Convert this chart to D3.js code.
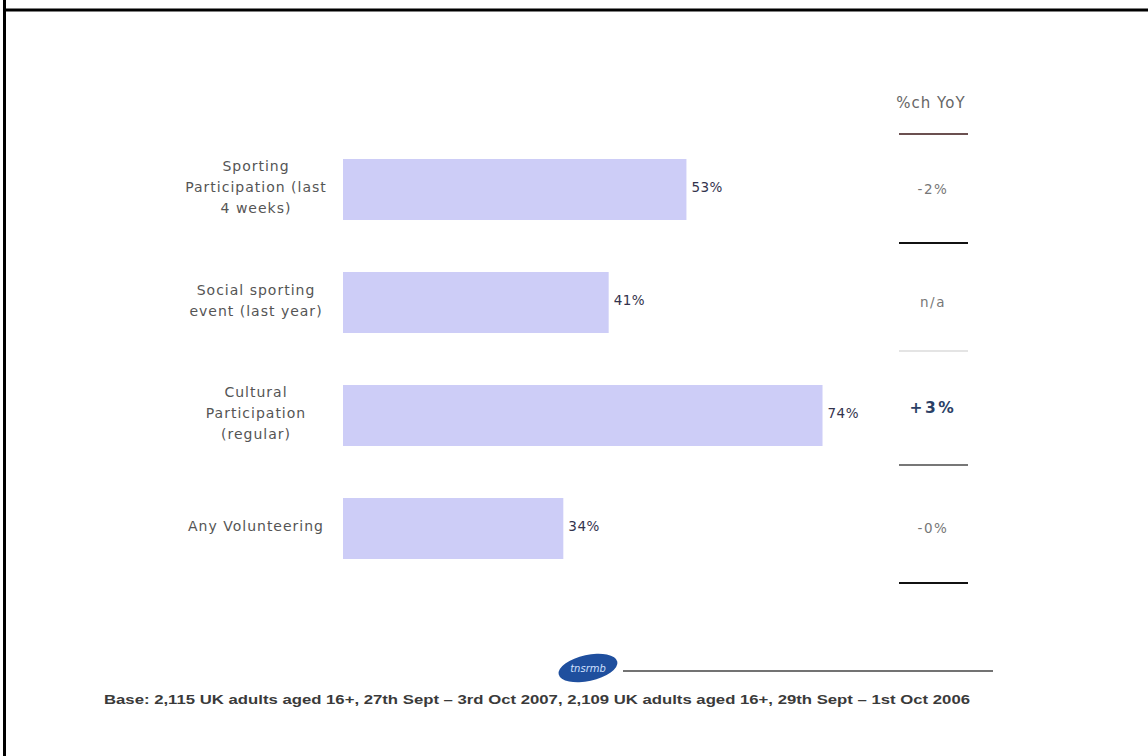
<!DOCTYPE html>
<html>
<head>
<meta charset="utf-8">
<script src="https://cdn.jsdelivr.net/npm/d3@7"></script>
<style>
  body { margin: 0; background: #fff; }
  svg { display: block; font-family: "DejaVu Sans", Verdana, sans-serif; }
</style>
</head>
<body>
<svg id="chart" width="1148" height="756"></svg>
<script>
'use strict';

// chart values
var categories = [
    ['Sporting', 'Participation (last', '4 weeks)'],
    ['Social sporting', 'event (last year)'],
    ['Cultural', 'Participation', '(regular)'],
    ['Any Volunteering']
];
var values = [53, 41, 74, 34];
var yoyLabels = ['-2%', 'n/a', '+3%', '-0%'];
var yoyHeader = '%ch YoY';
var footnote = 'Base: 2,115 UK adults aged 16+, 27th Sept \u2013 3rd Oct 2007, 2,109 UK adults aged 16+, 29th Sept \u2013 1st Oct 2006';

var svg = d3.select('#chart');

// slide frame (top and left rule)
svg.append('line').attr('x1', 3).attr('x2', 1148).attr('y1', 10).attr('y2', 10)
    .attr('stroke', '#000').attr('stroke-width', 3);
svg.append('line').attr('x1', 4.5).attr('x2', 4.5).attr('y1', 0).attr('y2', 756)
    .attr('stroke', '#000').attr('stroke-width', 3);

var x = d3.scaleLinear()
    .domain([0, 100])
    .range([343, 991]);

var y = d3.scaleBand()
    .domain(d3.range(values.length))
    .range([159, 559])
    .paddingInner(0.46)
    .paddingOuter(0);

var bars = svg.append('g').attr('class', 'bars');

bars.selectAll('rect')
    .data(values)
    .enter().append('rect')
    .attr('x', x(0))
    .attr('y', function(d, i) { return y(i); })
    .attr('width', function(d) { return x(d) - x(0); })
    .attr('height', y.bandwidth())
    .attr('fill', '#cdcdf7');

bars.selectAll('text.value')
    .data(values)
    .enter().append('text')
    .attr('class', 'value')
    .attr('x', function(d) { return x(d) + 5; })
    .attr('y', function(d, i) { return y(i) + y.bandwidth() / 2 - 2; })
    .attr('dy', '0.35em')
    .attr('font-size', 13.5)
    .attr('letter-spacing', 0.5)
    .attr('fill', '#33334d')
    .text(function(d) { return d + '%'; });

// category labels, centred to the left of the bars
var cats = svg.append('g').attr('class', 'categories');
categories.forEach(function(lines, i) {
    var cy = y(i) + y.bandwidth() / 2 - 2;
    var lh = 21;
    var t = cats.append('text')
        .attr('text-anchor', 'middle')
        .attr('font-size', 14)
        .attr('letter-spacing', 1)
        .attr('fill', '#555');
    lines.forEach(function(line, j) {
        t.append('tspan')
            .attr('x', 256)
            .attr('y', cy + (j - (lines.length - 1) / 2) * lh)
            .attr('dy', '0.35em')
            .text(line);
    });
});

// %ch YoY column
var yoy = svg.append('g').attr('class', 'yoy');
yoy.append('text')
    .attr('x', 931).attr('y', 103).attr('dy', '0.35em')
    .attr('text-anchor', 'middle')
    .attr('font-size', 15)
    .attr('letter-spacing', 1)
    .attr('fill', '#666')
    .text(yoyHeader);

var ruleY = [134, 243, 351, 465, 583];
var ruleCol = ['#6b5050', '#111', '#e4e4e4', '#777', '#111'];
yoy.selectAll('line')
    .data(ruleY)
    .enter().append('line')
    .attr('x1', 899).attr('x2', 968)
    .attr('y1', function(d) { return d; })
    .attr('y2', function(d) { return d; })
    .attr('stroke', function(d, i) { return ruleCol[i]; })
    .attr('stroke-width', 2);

yoy.selectAll('text.yoyval')
    .data(yoyLabels)
    .enter().append('text')
    .attr('class', 'yoyval')
    .attr('x', 933)
    .attr('y', function(d, i) { return y(i) + y.bandwidth() / 2 - (i === 2 ? 8 : 0); })
    .attr('dy', '0.35em')
    .attr('text-anchor', 'middle')
    .attr('font-size', function(d, i) { return i === 2 ? 15.5 : 13.5; })
    .attr('font-weight', function(d, i) { return i === 2 ? 'bold' : 'normal'; })
    .attr('letter-spacing', function(d, i) { return i === 2 ? 2.5 : 1.5; })
    .attr('fill', function(d, i) { return i === 2 ? '#2b3f66' : '#777'; })
    .text(function(d) { return d; });

// footer: logo + rule + base note
var foot = svg.append('g').attr('class', 'footer');
foot.append('ellipse')
    .attr('cx', 588).attr('cy', 668).attr('rx', 30).attr('ry', 13)
    .attr('transform', 'rotate(-12,588,668)')
    .attr('fill', '#1f4f9e');
foot.append('text')
    .attr('x', 588).attr('y', 668).attr('dy', '0.35em')
    .attr('text-anchor', 'middle')
    .attr('font-size', 10).attr('font-style', 'italic')
    .attr('fill', '#cfe0ff')
    .text('tnsrmb');
foot.append('line')
    .attr('x1', 623).attr('x2', 993).attr('y1', 671).attr('y2', 671)
    .attr('stroke', '#444').attr('stroke-width', 1.5);
foot.append('text')
    .attr('x', 104).attr('y', 704)
    .attr('font-family', '"Liberation Sans Narrow", "Liberation Sans", Arial, sans-serif')
    .attr('font-size', 13.5)
    .attr('font-weight', 'bold')
    .attr('textLength', 866)
    .attr('lengthAdjust', 'spacingAndGlyphs')
    .attr('fill', '#3a3a3a')
    .text(footnote);
</script>
</body>
</html>
